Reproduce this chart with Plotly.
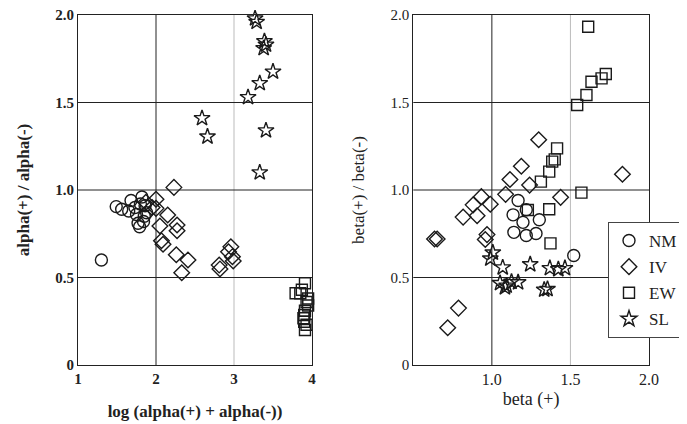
import plotly.graph_objects as go

# ---- Left panel data: log(alpha(+)+alpha(-)) vs alpha(+)/alpha(-)
nm_l_x = [1.30, 1.49, 1.56, 1.65, 1.68, 1.73, 1.75, 1.77, 1.79, 1.82, 1.84, 1.86, 1.88, 1.80, 1.85]
nm_l_y = [0.60, 0.905, 0.89, 0.88, 0.94, 0.90, 0.86, 0.81, 0.79, 0.96, 0.82, 0.91, 0.87, 0.92, 0.85]
iv_l_x = [1.87, 1.95, 2.00, 2.00, 2.23, 2.15, 2.05, 2.27, 2.27, 2.07, 2.09, 2.26, 2.41, 2.33, 2.81, 2.82, 2.96, 2.93, 2.98, 2.99]
iv_l_y = [0.93, 0.90, 0.947, 0.895, 1.015, 0.857, 0.794, 0.80, 0.767, 0.71, 0.69, 0.63, 0.60, 0.527, 0.571, 0.549, 0.676, 0.647, 0.619, 0.594]
ew_l_x = [3.79, 3.91, 3.85, 3.93, 3.95, 3.91, 3.90, 3.90, 3.91, 3.87, 3.95, 3.89, 3.93]
ew_l_y = [0.41, 0.467, 0.41, 0.36, 0.34, 0.31, 0.286, 0.247, 0.20, 0.43, 0.38, 0.267, 0.23]
sl_l_x = [3.27, 3.29, 3.39, 3.41, 3.38, 3.50, 3.33, 3.18, 2.59, 2.66, 3.41, 3.33]
sl_l_y = [1.98, 1.96, 1.85, 1.83, 1.81, 1.676, 1.61, 1.53, 1.41, 1.305, 1.34, 1.10]

# ---- Right panel data: beta(+) vs beta(+)/beta(-)
nm_r_x = [1.167, 1.135, 1.219, 1.198, 1.302, 1.14, 1.219, 1.281, 1.521]
nm_r_y = [0.94, 0.858, 0.887, 0.815, 0.83, 0.758, 0.74, 0.751, 0.626]
iv_r_x = [1.298, 1.1875, 1.115, 1.24, 1.0875, 0.933, 0.881, 0.99, 0.817, 0.906, 1.4375, 0.969, 0.958, 0.635, 0.652, 0.7875, 0.719, 1.831]
iv_r_y = [1.287, 1.136, 1.060, 1.028, 0.975, 0.962, 0.915, 0.919, 0.845, 0.853, 0.958, 0.745, 0.717, 0.72, 0.72, 0.325, 0.213, 1.09]
ew_r_x = [1.613, 1.725, 1.698, 1.634, 1.602, 1.543, 1.415, 1.40, 1.384, 1.365, 1.312, 1.57, 1.365, 1.373, 1.229]
ew_r_y = [1.933, 1.663, 1.638, 1.619, 1.543, 1.486, 1.238, 1.175, 1.162, 1.105, 1.048, 0.985, 0.89, 0.695, 0.886]
sl_r_x = [1.006, 0.99, 1.069, 1.244, 1.369, 1.423, 1.465, 1.052, 1.094, 1.125, 1.167, 1.083, 1.333, 1.354]
sl_r_y = [0.642, 0.608, 0.557, 0.575, 0.553, 0.547, 0.553, 0.468, 0.453, 0.475, 0.472, 0.443, 0.43, 0.434]

groups = ["NM", "IV", "EW", "SL"]

# ticks
l_xticks = [1, 2, 3, 4]
l_yticks = [0, 0.5, 1.0, 1.5, 2.0]
l_yticktext = ["0", "0.5", "1.0", "1.5", "2.0"]
r_xticks = [1.0, 1.5, 2.0]
r_xticktext = ["1.0", "1.5", "2.0"]
r_yticks = [0, 0.5, 1.0, 1.5, 2.0]
r_yticktext = ["0", "0.5", "1.0", "1.5", "2.0"]

# grid lines (position, colour)
l_vgrid = [(2, "#222222"), (3, "#bbbbbb")]
r_vgrid = [(1.0, "#222222"), (1.5, "#bbbbbb")]
hgrid = [0.5, 1.0, 1.5]

FONT = "Liberation Serif"
symbols = {"NM": "circle-open", "IV": "diamond-open", "EW": "square-open", "SL": "star-open"}
sizes = {"NM": 12, "IV": 12, "EW": 11, "SL": 12}

# page has an 8px body margin -> figure is 679x416
W, H = 679, 416
OFF = 8

fig = go.Figure()

left = {"NM": (nm_l_x, nm_l_y), "IV": (iv_l_x, iv_l_y), "EW": (ew_l_x, ew_l_y), "SL": (sl_l_x, sl_l_y)}
right = {"NM": (nm_r_x, nm_r_y), "IV": (iv_r_x, iv_r_y), "EW": (ew_r_x, ew_r_y), "SL": (sl_r_x, sl_r_y)}

MK = "#1a1a1a"
for g in groups:
    x, y = left[g]
    fig.add_trace(go.Scatter(
        x=x, y=y, mode="markers", name=g, showlegend=False, xaxis="x", yaxis="y",
        cliponaxis=False,
        marker=dict(symbol=symbols[g], size=sizes[g], color=MK, line=dict(width=1.4, color=MK)),
    ))
for g in groups:
    x, y = right[g]
    fig.add_trace(go.Scatter(
        x=x, y=y, mode="markers", name=g, showlegend=True, xaxis="x2", yaxis="y2",
        legendgroup=g, cliponaxis=False,
        marker=dict(symbol=symbols[g], size=sizes[g], color=MK, line=dict(width=1.4, color=MK)),
    ))

shapes = []
for xv, col in l_vgrid:
    shapes.append(dict(type="line", xref="x", yref="y domain", x0=xv, x1=xv, y0=0, y1=1,
                       line=dict(color=col, width=1), layer="below"))
for xv, col in r_vgrid:
    shapes.append(dict(type="line", xref="x2", yref="y2 domain", x0=xv, x1=xv, y0=0, y1=1,
                       line=dict(color=col, width=1), layer="below"))
for yv in hgrid:
    shapes.append(dict(type="line", xref="x domain", yref="y", x0=0, x1=1, y0=yv, y1=yv,
                       line=dict(color="#222222", width=1), layer="below"))
    shapes.append(dict(type="line", xref="x2 domain", yref="y2", x0=0, x1=1, y0=yv, y1=yv,
                       line=dict(color="#222222", width=1), layer="below"))

ax_common = dict(showgrid=False, zeroline=False, showline=True, linecolor="#222222", linewidth=1.2,
                 mirror=True, ticks="", automargin=False, ticklabeloverflow="allow")

ydom = [59 / H, (416 - 7) / H]

fig.update_layout(
    width=W, height=H,
    margin=dict(l=0, r=0, t=0, b=0, autoexpand=False),
    paper_bgcolor="white", plot_bgcolor="white",
    font=dict(family=FONT, color="#222222"),
    shapes=shapes,
    xaxis=dict(domain=[(78 - OFF) / W, (312 - OFF) / W], range=[1, 4], tickvals=l_xticks,
               tickfont=dict(size=15, weight="bold"),
               title=dict(text="<b>log (alpha(+) + alpha(-))</b>", font=dict(size=17), standoff=19),
               anchor="y", **ax_common),
    yaxis=dict(domain=ydom, range=[0, 2], tickvals=l_yticks, ticktext=l_yticktext,
               tickfont=dict(size=15, weight="bold"),
               title=dict(text="<b>alpha(+) / alpha(-)</b>", font=dict(size=17), standoff=21),
               anchor="x", **ax_common),
    xaxis2=dict(domain=[(413.3 - OFF) / W, (649 - OFF) / W], range=[0.5, 2.0], tickvals=r_xticks,
                ticktext=r_xticktext, tickfont=dict(size=16),
                title=dict(text="beta (+)", font=dict(size=18), standoff=5),
                anchor="y2", **ax_common),
    yaxis2=dict(domain=ydom, range=[0, 2], tickvals=r_yticks, ticktext=r_yticktext,
                tickfont=dict(size=15),
                title=dict(text="beta(+) / beta(-)", font=dict(size=17), standoff=21),
                anchor="x2", **ax_common),
    legend=dict(x=(608 - OFF) / W, y=(424 - 222) / H, xanchor="left", yanchor="top",
                bgcolor="white", bordercolor="#444444", borderwidth=1,
                font=dict(size=17, family=FONT), tracegroupgap=1, itemwidth=30),
)

fig.write_html("out.html")
